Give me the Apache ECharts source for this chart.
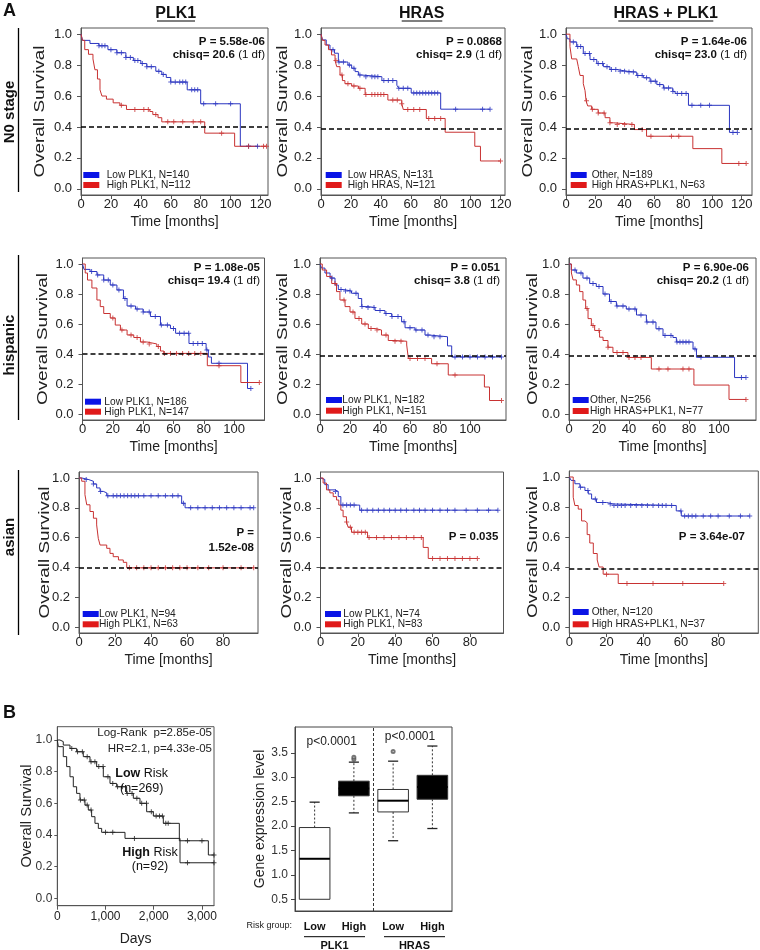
<!DOCTYPE html>
<html><head><meta charset="utf-8">
<script src="https://cdn.jsdelivr.net/npm/echarts@6/dist/echarts.min.js"></script>
<style>html,body{margin:0;padding:0;background:#fff}#c{width:760px;height:950px}</style>
</head><body><div id="c"></div><script>
// ---------------- DATA ----------------
const monthTicks = [0, 20, 40, 60, 80, 100, 120];
const survTicks = [0.0, 0.2, 0.4, 0.6, 0.8, 1.0];
const dayTicks = [0, 1000, 2000, 3000];
const exprTicks = [0.5, 1.0, 1.5, 2.0, 2.5, 3.0, 3.5];

// Panel A, row "N0 stage"
const n0PlkLow = [[1,0.96],[6,0.94],[12,0.925],[18,0.90],[24,0.88],[30,0.85],[35,0.83],[40,0.81],[44,0.79],[50,0.76],[54,0.74],[57,0.72],[60,0.69],[71,0.64],[80,0.55],[106.5,0.275]];
const n0PlkLowCens = [12,14,16,20,24,27,30,33,36,38,41,44,47,52,55,60,63,66,68,70,74,76,78,82,90,100,112,118];
const n0PlkHigh = [[1,0.96],[2.5,0.90],[5,0.87],[8,0.84],[9.3,0.77],[11,0.71],[12.7,0.64],[14,0.60],[17,0.58],[21.5,0.556],[26,0.54],[30.4,0.513],[46,0.50],[48,0.48],[51.5,0.46],[54,0.433],[82.7,0.36],[102.7,0.275]];
const n0PlkHighCens = [27,36,42,45,50,58,62,68,75,80,94,112,122,124];
const n0HrasLow = [[1,0.963],[3.5,0.93],[6,0.90],[9,0.877],[11.6,0.82],[18,0.80],[20.5,0.78],[22.8,0.758],[25,0.736],[27,0.725],[40.7,0.70],[50.7,0.67],[52,0.65],[60.3,0.62],[80,0.515]];
const n0HrasLowCens = [8,12,15,19,22,26,30,34,36,38,42,45,48,52,55,58,62,64,66,68,70,72,74,76,78,90,108,113];
const n0HrasHigh = [[1,0.96],[2.7,0.93],[5,0.90],[7,0.866],[9.4,0.83],[10.5,0.79],[12.7,0.736],[14.3,0.70],[16,0.68],[20.5,0.665],[25,0.65],[29.5,0.61],[44.7,0.574],[54,0.55],[55,0.513],[70.4,0.455],[83,0.366],[102.8,0.275],[106.6,0.18]];
const n0HrasHighCens = [10,14,18,22,26,30,34,36,38,40,42,48,51,54,58,62,66,72,76,80,120];
const n0BothOther = [[1,0.97],[2.7,0.95],[7.3,0.92],[11.8,0.875],[16.4,0.836],[21,0.81],[25.5,0.79],[30,0.772],[34.6,0.76],[41.5,0.755],[48.3,0.733],[52.8,0.718],[57.4,0.696],[62,0.674],[66.5,0.652],[72.9,0.63],[74.5,0.617],[83.6,0.54],[111.6,0.365]];
const n0BothOtherCens = [5,8,10,13,16,19,22,25,28,31,34,37,40,43,46,49,52,55,58,61,64,67,70,73,76,79,82,86,92,98,114,117];
const n0BothHigh = [[2.7,0.92],[3.9,0.84],[7.3,0.83],[8.4,0.79],[9.6,0.733],[11.8,0.68],[13,0.635],[13.7,0.57],[14.8,0.536],[17.5,0.514],[22,0.49],[26.7,0.46],[30,0.427],[32.3,0.416],[46.7,0.383],[55,0.34],[86.6,0.26],[106.4,0.164]];
const n0BothHighCens = [14,18,22,26,30,35,40,45,52,58,72,77,118,123];

// Panel A, row "hispanic"
const hisPlkLow = [[1,0.964],[5,0.95],[9.5,0.927],[14,0.893],[18.3,0.86],[22.7,0.827],[27,0.77],[29.4,0.72],[35,0.70],[40,0.68],[44.8,0.65],[51.4,0.593],[58,0.57],[61.4,0.538],[70.2,0.47],[81.5,0.427],[83,0.38],[85,0.338],[108.8,0.17]];
const hisPlkLowCens = [6,10,14,17,20,24,28,32,36,40,44,48,52,56,60,64,67,70,73,76,79,82,90,111];
const hisPlkHigh = [[1.8,0.94],[3.3,0.893],[6.2,0.84],[9.5,0.76],[11.7,0.716],[14,0.67],[18.3,0.64],[21.6,0.593],[25,0.56],[29.4,0.527],[33.8,0.51],[38.2,0.48],[42.6,0.467],[49,0.45],[51.4,0.42],[53.6,0.404],[82.3,0.322],[104.4,0.21]];
const hisPlkHighCens = [20,26,32,36,40,44,50,54,58,62,66,70,74,78,90,116.6];
const hisHrasLow = [[1,0.973],[3.3,0.94],[6.7,0.906],[10,0.86],[12.2,0.83],[15.5,0.82],[21,0.805],[25.5,0.77],[27.8,0.716],[32,0.71],[36.7,0.69],[43.3,0.67],[47.8,0.65],[54.4,0.615],[56.7,0.575],[63.3,0.56],[70,0.526],[73.3,0.515],[85,0.454],[87.8,0.38]];
const hisHrasLowCens = [8,14,17,20,24,28,32,36,40,44,48,52,56,60,64,68,72,76,80,90,95,100,105,110,115,121];
const hisHrasHigh = [[1.5,0.96],[4.4,0.917],[7.8,0.87],[11,0.816],[13.3,0.76],[16.7,0.716],[20,0.68],[23.3,0.637],[27.8,0.60],[32.2,0.57],[36.7,0.56],[41,0.526],[45.5,0.49],[50,0.485],[57.8,0.46],[58.9,0.37],[74.4,0.335],[85.5,0.26],[109.6,0.18],[113,0.09]];
const hisHrasHighCens = [10,16,22,26,30,34,38,44,50,54,60,65,70,78,90,121];
const hisBothOther = [[1.5,0.96],[4.9,0.94],[9.3,0.906],[13.8,0.87],[18.2,0.85],[22.7,0.80],[27,0.75],[31.6,0.72],[38.2,0.70],[45,0.66],[51.6,0.613],[58,0.568],[62.7,0.524],[69.3,0.51],[71.6,0.48],[82.7,0.434],[85,0.378],[110.4,0.243]];
const hisBothOtherCens = [4,8,12,16,20,24,28,32,36,40,44,48,52,56,60,64,68,72,74,76,78,80,84,88,115,118];
const hisBothHigh = [[1.6,0.94],[2.7,0.894],[4.9,0.86],[7.1,0.816],[9.3,0.76],[11.1,0.703],[12.7,0.636],[14.9,0.59],[17.1,0.557],[20.4,0.512],[22.7,0.49],[26,0.445],[29.3,0.41],[39.3,0.377],[54.9,0.30],[83.3,0.193],[106.7,0.097]];
const hisBothHighCens = [12,16,20,26,32,36,40,44,48,60,66,76,80,118];

// Panel A, row "asian"
const asPlkLow = [[1.5,0.99],[5.2,0.978],[8,0.96],[9.8,0.933],[11.7,0.91],[13.5,0.90],[15.4,0.88],[57,0.83],[58.9,0.80]];
const asPlkLowCens = [4,8,12,16,19,21,23,25,27,29,31,33,36,40,44,48,52,55,58,62,66,70,74,78,82,86,90,95,97];
const asPlkHigh = [[1.5,0.978],[3.3,0.888],[4.3,0.82],[6.1,0.775],[8,0.73],[9.8,0.685],[10.7,0.595],[11.7,0.55],[15.4,0.528],[17.2,0.494],[19,0.472],[21.9,0.45],[24.6,0.434],[26.5,0.397]];
const asPlkHighCens = [28,32,36,40,44,48,52,56,60,66,72,80,90,97];
const asHrasLow = [[1,0.99],[2.3,0.955],[4.1,0.92],[7.7,0.91],[9.5,0.875],[10.9,0.818],[21,0.784]];
const asHrasLowCens = [8,12,14,16,18,22,25,28,31,34,37,40,43,46,50,53,56,60,64,68,72,78,84,90,95];
const asHrasHigh = [[1.4,0.966],[3.2,0.92],[5,0.90],[6.8,0.875],[8.6,0.852],[9.8,0.818],[10.9,0.784],[12.1,0.74],[13.9,0.705],[14.8,0.67],[16.6,0.636],[25.2,0.60],[55,0.534],[57.7,0.46]];
const asHrasHighCens = [14,16,18,20,22,24,26,30,34,38,42,46,50,54,60,64,68,72,76,80,84];
const asBothOther = [[1,0.977],[3,0.955],[5.7,0.932],[8.4,0.91],[10.2,0.887],[12,0.853],[14.6,0.83],[20,0.82],[23.6,0.81],[57.5,0.774],[60.2,0.74]];
const asBothOtherCens = [6,10,14,18,22,24,26,28,30,33,36,39,42,45,48,50,52,55,60,62,64,66,68,72,76,80,86,92,97];
const asBothHigh = [[2.1,0.865],[3,0.81],[4.8,0.786],[6.6,0.707],[8.4,0.695],[9.6,0.616],[11,0.56],[12.9,0.49],[15,0.447],[16,0.40],[18.2,0.352],[26.3,0.29]];
const asBothHighCens = [20,31,45,61,83];

const legendNames = [
  ['Low PLK1, N=140','High PLK1, N=112'],['Low HRAS, N=131','High HRAS, N=121'],['Other, N=189','High HRAS+PLK1, N=63'],
  ['Low PLK1, N=186','High PLK1, N=147'],['Low PLK1, N=182','High PLK1, N=151'],['Other, N=256','High HRAS+PLK1, N=77'],
  ['Low PLK1, N=94','High PLK1, N=63'],['Low PLK1, N=74','High PLK1, N=83'],['Other, N=120','High HRAS+PLK1, N=37']
];
const pLines = [['P = 5.58e-06','chisq= 20.6','(1 df)'],['P = 0.0868','chisq= 2.9','(1 df)'],['P = 1.64e-06','chisq= 23.0','(1 df)'],
  ['P = 1.08e-05','chisq= 19.4','(1 df)'],['P = 0.051','chisq= 3.8','(1 df)'],['P = 6.90e-06','chisq= 20.2','(1 df)'],
  ['P =','1.52e-08',''],['P = 0.035','',''],['P = 3.64e-07','','']];
const refLevels = [0.40,0.39,0.39,0.40,0.39,0.39,0.40,0.395,0.39];
const colTitles = ['PLK1','HRAS','HRAS + PLK1'];
const rowTitles = ['N0 stage','hispanic','asian'];

// Panel B, survival
const riskLow = [[55,0.99],[124,0.968],[263,0.947],[401,0.926],[539,0.895],[678,0.863],[816,0.832],[954,0.768],[1093,0.726],[1231,0.705],[1438,0.663],[1577,0.632],[1715,0.60],[1853,0.547],[1992,0.52],[2199,0.474],[2531,0.364],[3133,0.274]];
const riskLowCens = [300,420,520,620,700,780,860,950,1050,1150,1250,1350,1450,1550,1650,1750,1850,1950,2050,2120,2180,2250,2300,2700,3000,3250];
const riskHigh = [[21,0.958],[124,0.895],[194,0.832],[263,0.768],[332,0.705],[401,0.663],[470,0.621],[574,0.589],[643,0.558],[712,0.516],[781,0.474],[851,0.442],[920,0.417],[1404,0.379],[2545,0.225]];
const riskHighCens = [480,560,620,700,1000,1150,1600,2700,3250];

// Panel B, expression boxes
const boxCategories = ['Low','High','Low','High'];
const boxGenes = ['PLK1','HRAS'];
const boxMin = [0.50, 2.27, 1.70, 1.95];
const boxQ1 = [0.50, 2.62, 2.29, 2.55];
const boxMedian = [1.33, 2.77, 2.52, 2.80];
const boxQ3 = [1.97, 2.92, 2.75, 3.04];
const boxMax = [2.49, 3.31, 3.33, 3.64];
const boxOutliers = [[1,3.37],[1,3.41],[2,3.53]];
const boxPvalues = ['p<0.0001','p<0.0001'];

// ---------------- LAYOUT ----------------
const FONT = 'Liberation Sans, Arial, Helvetica, sans-serif';
const BLUE = '#2a35c0', RED = '#c83232', BLUE_L = '#0a14e6', RED_L = '#e01a1a';
const PLUS = 'path://M2,0H3V2H5V3H3V5H2V3H0V2H2Z';

const panels = [
 {g:[81,28,187,167], xmax:125, lab:120, lo:n0PlkLow, loC:n0PlkLowCens, hi:n0PlkHigh, hiC:n0PlkHighCens, pr:265, py:[41.7,55], lg:[83.3,175,185,106.7], yt:40},
 {g:[321,28,184,167], xmax:123, lab:120, lo:n0HrasLow, loC:n0HrasLowCens, hi:n0HrasHigh, hiC:n0HrasHighCens, pr:502, py:[41.7,55], lg:[325.7,175,185,347.7], yt:283.3},
 {g:[566,28,186,167], xmax:127, lab:120, lo:n0BothOther, loC:n0BothOtherCens, hi:n0BothHigh, hiC:n0BothHighCens, pr:747, py:[41.7,55], lg:[570.7,175,185,591.7], yt:528.3},
 {g:[82.5,258,182,162], xmax:120, lab:100, lo:hisPlkLow, loC:hisPlkLowCens, hi:hisPlkHigh, hiC:hisPlkHighCens, pr:260, py:[268.3,281], lg:[85,401.7,411.7,104.3], yt:42.7},
 {g:[320,258,186,162], xmax:124, lab:100, lo:hisHrasLow, loC:hisHrasLowCens, hi:hisHrasHigh, hiC:hisHrasHighCens, pr:500, py:[267.7,281], lg:[326,400,410.7,342.3], yt:283.3},
 {g:[569,258,187,162], xmax:124.7, lab:100, lo:hisBothOther, loC:hisBothOtherCens, hi:hisBothHigh, hiC:hisBothHighCens, pr:749, py:[268,281], lg:[572.7,400,411,590], yt:532.7},
 {g:[79,472,179,161], xmax:99.4, lab:80, lo:asPlkLow, loC:asPlkLowCens, hi:asPlkHigh, hiC:asPlkHighCens, pr:254, py:[533.3,548.3], lg:[82.7,614,624.3,99], yt:45},
 {g:[320.5,472,183,161], xmax:98, lab:80, lo:asHrasLow, loC:asHrasLowCens, hi:asHrasHigh, hiC:asHrasHighCens, pr:498.3, py:[536.7,0], lg:[325,614,624.3,343.3], yt:286.7},
 {g:[569.3,471,189,162], xmax:101.6, lab:80, lo:asBothOther, loC:asBothOtherCens, hi:asBothHigh, hiC:asBothHighCens, pr:745, py:[536.7,0], lg:[572.7,612,624.3,591.7], yt:532.7}
];

function stepVal(ev, t){ let s = 1; for (const e of ev){ if (e[0] <= t) s = e[1]; else break; } return s; }

const option = {animation:false, backgroundColor:'#fff', textStyle:{fontFamily:FONT}, grid:[], xAxis:[], yAxis:[], series:[], graphic:[]};
const G = option.graphic;
function txt(x, y, text, o){ o = o||{}; G.push({type:'text', x:x, y:y, rotation:o.rot||0, scaleX:o.sx||1, scaleY:1, z:10, style:Object.assign({text:text, fontFamily:FONT, fontSize:o.fs||12, fontWeight:o.fw||'normal', fill:o.fill||'#111', align:o.al||'left', textAlign:o.al||'left', verticalAlign:'middle', textVerticalAlign:'middle'}, o.rich?{rich:o.rich}:{})}); }
function line(x1,y1,x2,y2,w,c){ G.push({type:'line', z:10, shape:{x1:x1,y1:y1,x2:x2,y2:y2}, style:{stroke:c||'#000', lineWidth:w||1}}); }
function rect(x,y,w,h,c){ G.push({type:'rect', z:10, shape:{x:x,y:y,width:w,height:h}, style:{fill:c}}); }

function addKM(gi, ev, cens, color){
  const end = Math.max(cens.length ? cens[cens.length-1] : 0, ev[ev.length-1][0]);
  const data = [[0,1]].concat(ev).concat([[end, stepVal(ev,end)]]);
  option.series.push({type:'line', xAxisIndex:gi, yAxisIndex:gi, step:'end', data:data, symbol:'none', silent:true, lineStyle:{color:color, width:1}, z:3});
  option.series.push({type:'scatter', xAxisIndex:gi, yAxisIndex:gi, silent:true, data:cens.map(t=>[t, stepVal(ev,t)]), symbol:PLUS, symbolSize:5, itemStyle:{color:color}, z:4});
}

panels.forEach((p, i) => {
  option.grid.push({left:p.g[0], top:p.g[1], width:p.g[2], height:p.g[3], show:true, borderColor:'#555', borderWidth:1, backgroundColor:'transparent'});
  option.xAxis.push({type:'value', gridIndex:i, min:0, max:p.xmax, splitLine:{show:false},
    axisLine:{show:true, onZero:false, lineStyle:{color:'#555'}},
    axisTick:{show:true, length:4, customValues:monthTicks.filter(v=>v<=p.lab), lineStyle:{color:'#555'}},
    axisLabel:{customValues:monthTicks.filter(v=>v<=p.lab), fontSize:13, color:'#222', margin:3, fontFamily:FONT},
    name:'Time [months]', nameLocation:'middle', nameGap:20, nameTextStyle:{fontSize:14, color:'#222', fontFamily:FONT, verticalAlign:'top'}});
  option.yAxis.push({type:'value', gridIndex:i, min:-0.04, max:1.04, splitLine:{show:false},
    axisLine:{show:true, onZero:false, lineStyle:{color:'#555'}},
    axisTick:{show:true, length:4, customValues:survTicks, lineStyle:{color:'#555'}},
    axisLabel:{customValues:survTicks, formatter:v=>v.toFixed(1), fontSize:13, color:'#222', margin:9, fontFamily:FONT}});
  txt(p.yt, p.g[1] + p.g[3]/2, 'Overall Survival', {fs:14.5, sx:1.3, al:'center', rot:Math.PI/2, fill:'#222'});
  addKM(i, p.lo, p.loC, BLUE);
  addKM(i, p.hi, p.hiC, RED);
  option.series[option.series.length-1].markLine = {silent:true, symbol:'none', label:{show:false}, data:[{yAxis:refLevels[i]}], lineStyle:{type:[5,3], color:'#000', width:1.5}};
  const pl = pLines[i];
  txt(p.pr, p.py[0], pl[0], {fs:11.5, fw:'bold', al:'right'});
  if (pl[1]) {
    if (pl[2]) txt(p.pr, p.py[1], '{b|' + pl[1] + '} ' + pl[2], {fs:11.5, al:'right', rich:{b:{fontWeight:'bold', fontSize:11.5, fontFamily:FONT}}});
    else txt(p.pr, p.py[1], pl[1], {fs:11.5, fw:'bold', al:'right'});
  }
  rect(p.lg[0], p.lg[1]-3, 16, 6, BLUE_L);
  rect(p.lg[0], p.lg[2]-3, 16, 6, RED_L);
  txt(p.lg[3], p.lg[1], legendNames[i][0], {fs:10.2, fill:'#222'});
  txt(p.lg[3], p.lg[2], legendNames[i][1], {fs:10.2, fill:'#222'});
});

txt(3, 11, 'A', {fs:18, fw:'bold'});
const colCenters = [175.7, 421.7, 665.7];
colTitles.forEach((t,i)=>{ txt(colCenters[i], 13.5, t, {fs:16, fw:'bold', al:'center'}); });
line(157,21,195,21,1.2); line(401.7,21,442.3,21,1.2); line(618.3,21,713.3,21,1.2);
const rowY = [[28,192,112],[255,420,345],[470,635,537]];
rowTitles.forEach((t,i)=>{ txt(10, rowY[i][2], t, {fs:15, fw:'bold', al:'center', rot:Math.PI/2}); line(18.5,rowY[i][0],18.5,rowY[i][1],1.3); });

// ---------- Panel B: KM ----------
const bi = panels.length;
option.grid.push({left:57.3, top:726.7, width:156.7, height:179, show:true, borderColor:'#555', borderWidth:1});
option.xAxis.push({type:'value', gridIndex:bi, min:0, max:3250, splitLine:{show:false}, axisLine:{show:true, onZero:false, lineStyle:{color:'#555'}},
  axisTick:{show:true, length:4, customValues:dayTicks, lineStyle:{color:'#555'}},
  axisLabel:{customValues:dayTicks, formatter:v=>v.toLocaleString('en-US'), fontSize:12, color:'#222', margin:5, fontFamily:FONT},
  name:'Days', nameLocation:'middle', nameGap:26, nameTextStyle:{fontSize:14, color:'#222', fontFamily:FONT, verticalAlign:'top'}});
option.yAxis.push({type:'value', gridIndex:bi, min:-0.046, max:1.084, splitLine:{show:false}, axisLine:{show:true, onZero:false, lineStyle:{color:'#555'}},
  axisTick:{show:true, length:3, customValues:survTicks, lineStyle:{color:'#555'}},
  axisLabel:{customValues:survTicks, formatter:v=>v.toFixed(1), fontSize:12, color:'#333', margin:5, fontFamily:FONT}});
txt(26.7, 816, 'Overall Survival', {fs:14, sx:1.05, al:'center', rot:Math.PI/2, fill:'#222'});
addKM(bi, riskLow, riskLowCens, '#222');
addKM(bi, riskHigh, riskHighCens, '#222');
txt(3, 713, 'B', {fs:18, fw:'bold'});
txt(212, 733.3, 'Log-Rank  p=2.85e-05', {fs:11.5, al:'right', fill:'#222'});
txt(212, 749.3, 'HR=2.1, p=4.33e-05', {fs:11.5, al:'right', fill:'#222'});
txt(141.7, 774, '{b|Low} Risk', {fs:12.5, al:'center', rich:{b:{fontWeight:'bold', fontSize:12.5, fontFamily:FONT}}});
txt(141.7, 788.3, '(n=269)', {fs:12.5, al:'center'});
txt(150, 852.7, '{b|High} Risk', {fs:12.5, al:'center', rich:{b:{fontWeight:'bold', fontSize:12.5, fontFamily:FONT}}});
txt(150, 866.7, '(n=92)', {fs:12.5, al:'center'});

// ---------- Panel B: boxplot ----------
const ci = bi + 1;
option.grid.push({left:295, top:727, width:157, height:184, show:true, borderColor:'#444', borderWidth:1});
option.xAxis.push({type:'value', gridIndex:ci, min:-0.5, max:3.5, splitLine:{show:false}, axisLine:{show:true, onZero:false, lineStyle:{color:'#444'}},
  axisTick:{show:false}, axisLabel:{customValues:[0,1,2,3], formatter:v=>boxCategories[Math.round(v)], fontSize:11, fontWeight:'bold', color:'#111', margin:10, fontFamily:FONT}});
option.yAxis.push({type:'value', gridIndex:ci, min:0.26, max:4.03, splitLine:{show:false}, axisLine:{show:true, onZero:false, lineStyle:{color:'#444'}},
  axisTick:{show:true, length:4, customValues:exprTicks, lineStyle:{color:'#444'}},
  axisLabel:{customValues:exprTicks, formatter:v=>v.toFixed(1), fontSize:12, color:'#333', margin:7, fontFamily:FONT},
  name:'Gene expression level', nameLocation:'middle', nameRotate:90, nameGap:28, nameTextStyle:{fontSize:14, color:'#222', fontFamily:FONT}});
const boxData = boxCategories.map((c,i)=>[i, boxMin[i], boxQ1[i], boxMedian[i], boxQ3[i], boxMax[i]]);
option.series.push({type:'custom', xAxisIndex:ci, yAxisIndex:ci, silent:true, data:boxData, z:3,
  renderItem:function(params, api){
    const i = api.value(0);
    const x = api.coord([i, 0])[0];
    const bw = api.size([1, 0])[0] * 0.78, cw = bw * 0.33;
    const y = k => api.coord([i, api.value(k)])[1];
    const ymin = y(1), yq1 = y(2), ymed = y(3), yq3 = y(4), ymax = y(5);
    const dark = (i % 2) === 1;
    const ch = [
      {type:'line', shape:{x1:x, y1:yq3, x2:x, y2:ymax}, style:{stroke:'#333', lineWidth:1, lineDash:[2,2]}},
      {type:'line', shape:{x1:x-cw/2, y1:ymax, x2:x+cw/2, y2:ymax}, style:{stroke:'#222', lineWidth:1.3}},
      {type:'rect', shape:{x:x-bw/2, y:yq3, width:bw, height:yq1-yq3}, style:{fill:dark?'#000':'#fff', stroke:'#333', lineWidth:1}},
      {type:'line', shape:{x1:x-bw/2, y1:ymed, x2:x+bw/2, y2:ymed}, style:{stroke:'#000', lineWidth:2}}
    ];
    if (ymin - yq1 > 1) {
      ch.push({type:'line', shape:{x1:x, y1:yq1, x2:x, y2:ymin}, style:{stroke:'#333', lineWidth:1, lineDash:[2,2]}});
      ch.push({type:'line', shape:{x1:x-cw/2, y1:ymin, x2:x+cw/2, y2:ymin}, style:{stroke:'#222', lineWidth:1.3}});
    }
    return {type:'group', children:ch};
  }});
option.series.push({type:'scatter', xAxisIndex:ci, yAxisIndex:ci, silent:true, data:boxOutliers, symbol:'emptyCircle', symbolSize:3, itemStyle:{color:'#555', borderColor:'#555', borderWidth:0.8},
  markLine:{silent:true, symbol:'none', label:{show:false}, data:[{xAxis:1.5}], lineStyle:{type:[3,2], color:'#333', width:1}}});
txt(331.7, 741.7, boxPvalues[0], {fs:12, al:'center', fill:'#222'});
txt(410, 736.7, boxPvalues[1], {fs:12, al:'center', fill:'#222'});
txt(292, 926, 'Risk group:', {fs:9, al:'right', fill:'#222'});
line(304,936.7,365,936.7,1); line(384,936.7,445,936.7,1);
txt(334.5, 946, boxGenes[0], {fs:11, fw:'bold', al:'center'});
txt(414.5, 946, boxGenes[1], {fs:11, fw:'bold', al:'center'});

const chart = echarts.init(document.getElementById('c'), null, {renderer:'canvas'});
chart.setOption(option);
</script></body></html>
